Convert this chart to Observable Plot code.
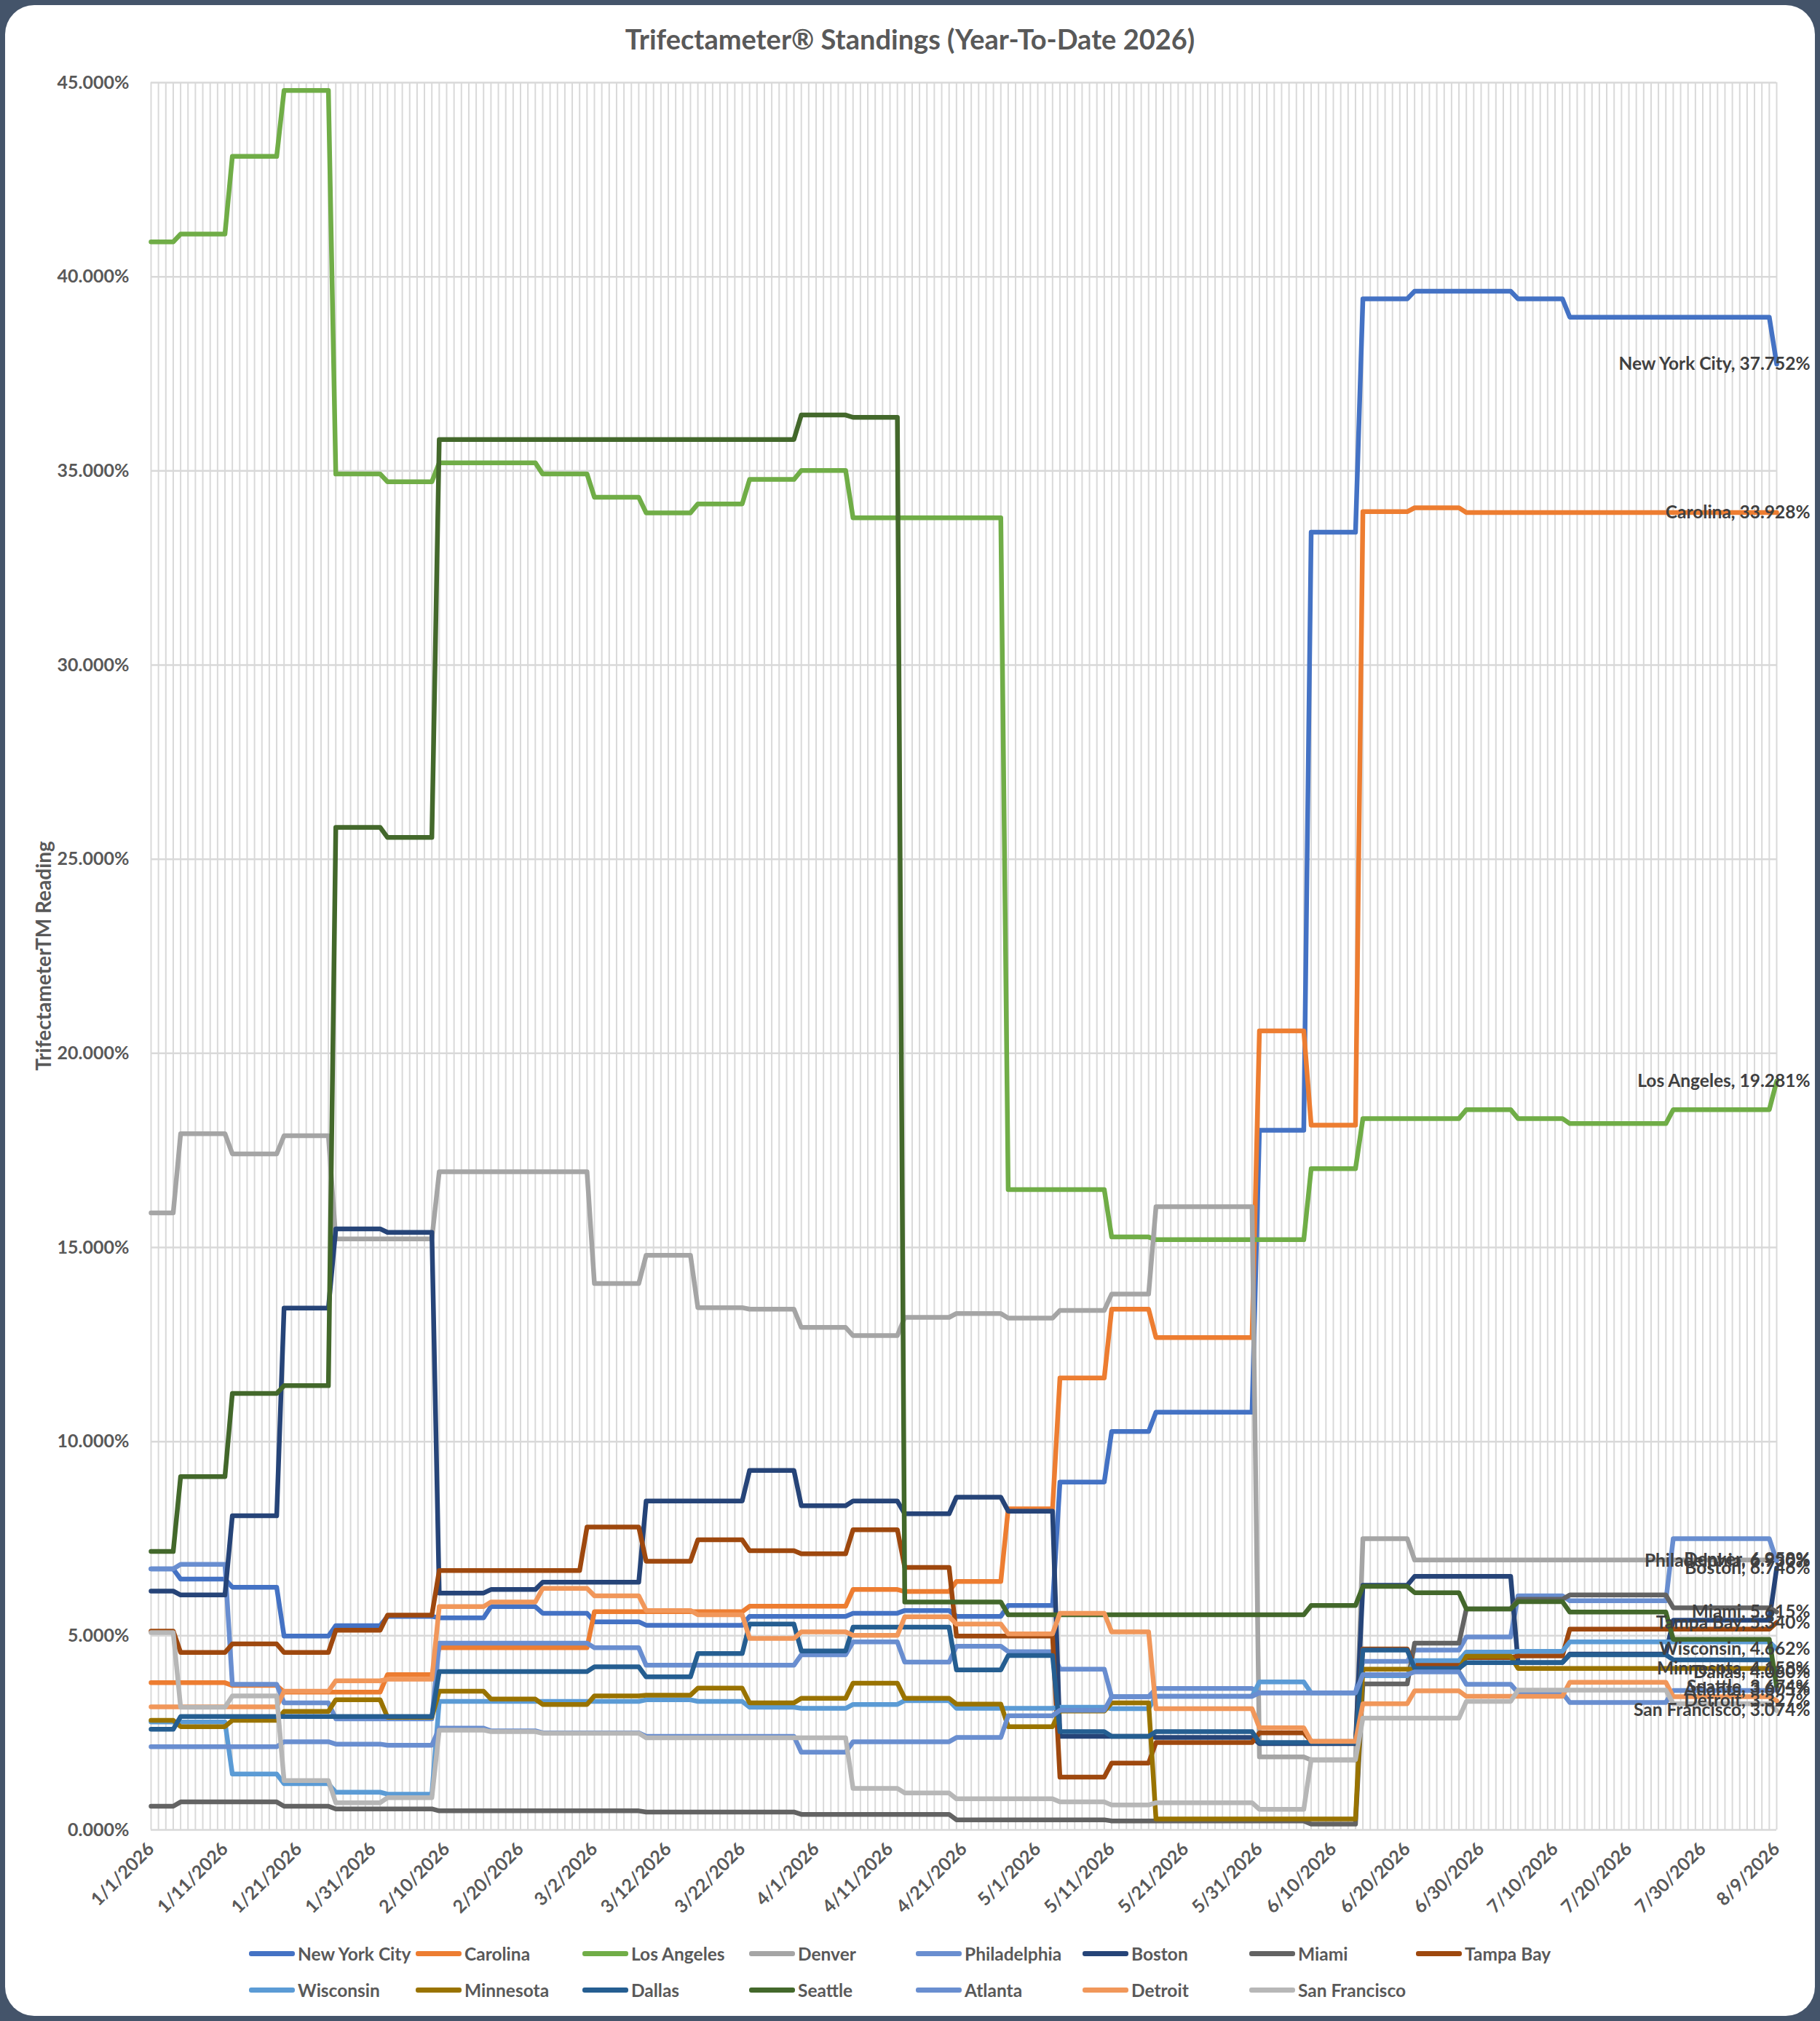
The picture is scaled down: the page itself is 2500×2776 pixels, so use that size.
<!DOCTYPE html>
<html><head><meta charset="utf-8">
<script src="https://cdn.jsdelivr.net/npm/d3@7"></script>
<script src="https://cdn.jsdelivr.net/npm/@observablehq/plot@0.6"></script>
<style>
html,body{margin:0;padding:0;background:#44546A;}
#frame{position:absolute;left:0;top:0;width:2500px;height:2776px;background:#44546A;overflow:hidden;}
#card{position:absolute;left:7px;top:7px;width:2486px;height:2762px;background:#fff;border-radius:40px;}
#chart{position:absolute;left:0;top:0;}
#title{position:absolute;left:0;top:29px;width:2500px;text-align:center;font:bold 38px Lato,sans-serif;color:#595959;line-height:48px;}
#ytitle{position:absolute;left:-238px;top:1293px;width:600px;height:40px;line-height:40px;text-align:center;font:bold 28px Lato,sans-serif;color:#595959;transform:rotate(-90deg);transform-origin:50% 50%;}
.lg{position:absolute;height:30px;display:flex;align-items:center;font:bold 24.5px Lato,sans-serif;color:#595959;white-space:nowrap;}
.sw{width:63px;height:7px;border-radius:3px;margin-right:4px;}
</style></head>
<body><div id="frame"><div id="card"></div><div id="chart"></div><div id="title">Trifectameter® Standings (Year-To-Date 2026)</div><div id="ytitle">TrifectameterTM Reading</div><div id="legend"></div></div>
<script>
// ---- data: runs are [firstDay, lastDay, value %], day 0 = 1/1/2026 ----
const seriesNames = ["New York City","Carolina","Los Angeles","Denver","Philadelphia","Boston","Miami","Tampa Bay","Wisconsin","Minnesota","Dallas","Seattle","Atlanta","Detroit","San Francisco"];
const seriesColors = ["#4472C4","#ED7D31","#70AD47","#A5A5A5","#698ED0","#264478","#636363","#9E480E","#5B9BD5","#997300","#255E91","#43682B","#698ED0","#F1975A","#B7B7B7"];
const endLabels = ["New York City, 37.752%","Carolina, 33.928%","Los Angeles, 19.281%","Denver, 6.958%","Philadelphia, 6.930%","Boston, 6.746%","Miami, 5.615%","Tampa Bay, 5.340%","Wisconsin, 4.662%","Minnesota, 4.158%","Dallas, 4.060%","Seattle, 3.674%","Atlanta, 3.605%","Detroit, 3.327%","San Francisco, 3.074%"];

const newYorkCity = [[0,3,6.72],[4,10,6.46],[11,17,6.25],[18,24,4.99],[25,31,5.26],[32,38,5.5],[39,45,5.46],[46,52,5.75],[53,59,5.58],[60,66,5.36],[67,80,5.27],[81,94,5.5],[95,101,5.58],[102,108,5.65],[109,115,5.5],[116,122,5.78],[123,129,8.96],[130,135,10.26],[136,149,10.76],[150,156,18.02],[157,163,33.42],[164,170,39.43],[171,184,39.63],[185,191,39.43],[192,219,38.96],[220,220,37.752]];
const carolina = [[0,10,3.79],[11,17,3.72],[18,31,3.55],[32,38,4.0],[39,59,4.69],[60,80,5.62],[81,94,5.76],[95,101,6.19],[102,108,6.14],[109,115,6.4],[116,122,8.27],[123,129,11.64],[130,135,13.41],[136,149,12.68],[150,156,20.58],[157,163,18.15],[164,170,33.95],[171,177,34.05],[178,219,33.93],[220,220,33.928]];
const losAngeles = [[0,3,40.9],[4,10,41.1],[11,17,43.1],[18,24,44.8],[25,31,34.92],[32,38,34.72],[39,52,35.21],[53,59,34.92],[60,66,34.32],[67,73,33.92],[74,80,34.15],[81,87,34.78],[88,94,35.01],[95,115,33.79],[116,129,16.49],[130,135,15.27],[136,156,15.2],[157,163,17.03],[164,177,18.32],[178,184,18.55],[185,191,18.32],[192,205,18.19],[206,219,18.55],[220,220,19.281]];
const denver = [[0,3,15.89],[4,10,17.93],[11,17,17.41],[18,24,17.88],[25,38,15.22],[39,59,16.95],[60,66,14.07],[67,73,14.8],[74,80,13.45],[81,87,13.41],[88,94,12.94],[95,101,12.73],[102,108,13.2],[109,115,13.3],[116,122,13.18],[123,129,13.38],[130,135,13.8],[136,149,16.05],[150,156,1.88],[157,163,1.8],[164,170,7.5],[171,219,6.95],[220,220,6.958]];
const philadelphia = [[0,3,6.72],[4,10,6.84],[11,17,3.75],[18,24,3.27],[25,38,2.86],[39,59,4.81],[60,66,4.69],[67,87,4.24],[88,94,4.51],[95,101,4.84],[102,108,4.32],[109,115,4.73],[116,122,4.59],[123,129,4.14],[130,135,3.43],[136,149,3.64],[150,163,3.53],[164,170,4.34],[171,177,4.63],[178,184,4.97],[185,191,6.03],[192,205,5.9],[206,219,7.5],[220,220,6.93]];
const boston = [[0,3,6.15],[4,10,6.05],[11,17,8.09],[18,24,13.44],[25,31,15.48],[32,38,15.39],[39,45,6.1],[46,52,6.19],[53,66,6.38],[67,80,8.47],[81,87,9.26],[88,94,8.35],[95,101,8.47],[102,108,8.14],[109,115,8.57],[116,122,8.21],[123,135,2.41],[136,149,2.38],[150,163,2.22],[164,170,6.3],[171,184,6.53],[185,191,4.31],[192,205,4.53],[206,219,5.4],[220,220,6.746]];
const miami = [[0,3,0.61],[4,17,0.72],[18,24,0.61],[25,38,0.54],[39,66,0.49],[67,87,0.46],[88,108,0.4],[109,129,0.26],[130,156,0.23],[157,163,0.15],[164,170,3.76],[171,177,4.81],[178,184,5.69],[185,191,5.94],[192,205,6.05],[206,219,5.72],[220,220,5.615]];
const tampaBay = [[0,3,5.12],[4,10,4.57],[11,17,4.79],[18,24,4.57],[25,31,5.14],[32,38,5.53],[39,58,6.68],[59,66,7.8],[67,73,6.92],[74,80,7.47],[81,87,7.19],[88,94,7.11],[95,101,7.73],[102,108,6.76],[109,122,4.99],[123,129,1.36],[130,135,1.72],[136,149,2.25],[150,156,2.5],[157,163,2.28],[164,170,4.66],[171,177,4.25],[178,184,4.44],[185,191,4.48],[192,219,5.17],[220,220,5.34]];
const wisconsin = [[0,10,2.78],[11,17,1.44],[18,24,1.19],[25,31,0.97],[32,38,0.92],[39,66,3.31],[67,73,3.35],[74,80,3.31],[81,87,3.16],[88,94,3.13],[95,101,3.23],[102,108,3.33],[109,122,3.13],[123,129,3.16],[130,135,3.12],[136,149,3.44],[150,156,3.81],[157,163,3.53],[164,170,3.97],[171,177,4.36],[178,184,4.58],[185,191,4.6],[192,219,4.84],[220,220,4.662]];
const minnesota = [[0,3,2.82],[4,10,2.66],[11,17,2.82],[18,24,3.05],[25,31,3.35],[32,38,2.9],[39,45,3.57],[46,52,3.37],[53,59,3.23],[60,66,3.45],[67,73,3.47],[74,80,3.65],[81,87,3.27],[88,94,3.39],[95,101,3.78],[102,108,3.39],[109,115,3.24],[116,122,2.66],[123,129,3.06],[130,135,3.27],[136,163,0.28],[164,177,4.14],[178,184,4.47],[185,219,4.16],[220,220,4.158]];
const dallas = [[0,3,2.59],[4,38,2.92],[39,59,4.08],[60,66,4.2],[67,73,3.94],[74,80,4.54],[81,87,5.3],[88,94,4.61],[95,108,5.22],[109,115,4.12],[116,122,4.49],[123,129,2.53],[130,135,2.41],[136,149,2.53],[150,163,2.25],[164,170,4.63],[171,177,4.16],[178,191,4.31],[192,205,4.51],[206,219,4.38],[220,220,4.06]];
const seattle = [[0,3,7.17],[4,10,9.1],[11,17,11.24],[18,24,11.44],[25,31,25.82],[32,38,25.56],[39,87,35.81],[88,94,36.44],[95,101,36.38],[102,115,5.87],[116,156,5.54],[157,163,5.78],[164,170,6.27],[171,177,6.11],[178,184,5.69],[185,191,5.88],[192,205,5.61],[206,219,4.91],[220,220,3.674]];
const atlanta = [[0,17,2.14],[18,24,2.27],[25,31,2.21],[32,38,2.18],[39,45,2.62],[46,52,2.55],[53,66,2.5],[67,87,2.41],[88,94,2.0],[95,108,2.27],[109,115,2.38],[116,122,2.94],[123,129,3.08],[130,135,3.43],[136,149,3.44],[150,163,3.53],[164,170,4.0],[171,177,4.07],[178,184,3.75],[185,191,3.53],[192,205,3.28],[206,219,3.59],[220,220,3.605]];
const detroit = [[0,17,3.17],[18,24,3.57],[25,31,3.84],[32,38,3.88],[39,45,5.75],[46,52,5.87],[53,59,6.22],[60,66,6.03],[67,73,5.65],[74,80,5.54],[81,87,4.93],[88,94,5.1],[95,101,5.01],[102,108,5.49],[109,115,5.3],[116,122,5.05],[123,129,5.58],[130,135,5.1],[136,149,3.12],[150,156,2.63],[157,163,2.28],[164,170,3.25],[171,177,3.58],[178,191,3.44],[192,205,3.8],[206,219,3.43],[220,220,3.327]];
const sanFrancisco = [[0,3,5.08],[4,10,3.16],[11,17,3.45],[18,24,1.27],[25,31,0.7],[32,38,0.83],[39,45,2.57],[46,52,2.53],[53,66,2.49],[67,94,2.37],[95,101,1.07],[102,108,0.95],[109,122,0.8],[123,129,0.72],[130,135,0.64],[136,149,0.7],[150,156,0.53],[157,163,1.81],[164,177,2.88],[178,184,3.31],[185,205,3.6],[206,219,3.25],[220,220,3.074]];

const seriesRuns = [newYorkCity,carolina,losAngeles,denver,philadelphia,boston,miami,tampaBay,wisconsin,minnesota,dallas,seattle,atlanta,detroit,sanFrancisco];

const xTickDays = [0,10,20,30,40,50,60,70,80,90,100,110,120,130,140,150,160,170,180,190,200,210,220];
const xTickLabels = ["1/1/2026","1/11/2026","1/21/2026","1/31/2026","2/10/2026","2/20/2026","3/2/2026","3/12/2026","3/22/2026","4/1/2026","4/11/2026","4/21/2026","5/1/2026","5/11/2026","5/21/2026","5/31/2026","6/10/2026","6/20/2026","6/30/2026","7/10/2026","7/20/2026","7/30/2026","8/9/2026"];
const yTicks = [0,5,10,15,20,25,30,35,40,45];
const lastDay = 220;

// ---- build points from runs ----
function runPoints(runs){
  const out = [];
  for (const [a,b,v] of runs){ out.push({day:a,value:v}); if (b !== a) out.push({day:b,value:v}); }
  return out;
}
const lineMarks = seriesRuns.map((runs,i) => Plot.line(runPoints(runs), {
  x:"day", y:"value", stroke: seriesColors[i], strokeWidth: 6.5,
  strokeLinejoin:"round", strokeLinecap:"round"
}));
const ends = seriesRuns.map((runs,i) => ({day: runs[runs.length-1][1], value: runs[runs.length-1][2], label: endLabels[i]}));

const chart = Plot.plot({
  width: 2500, height: 2650,
  marginTop: 113, marginBottom: 137, marginLeft: 207, marginRight: 60,
  x: {type:"linear", domain:[0,lastDay]},
  y: {domain:[0,45]},
  style: {background:"transparent", fontFamily:"Lato, sans-serif", fontWeight:"bold", color:"#595959", overflow:"visible"},
  marks: [
    Plot.ruleX(d3.range(0,lastDay+1), {stroke:"#d9d9d9", strokeWidth:2}),
    Plot.ruleY(yTicks, {stroke:"#d9d9d9", strokeWidth:2.5}),
    Plot.axisY({ticks:yTicks, tickFormat:d => d.toFixed(3)+"%", tickSize:0, tickPadding:30, fontSize:25, label:null}),
    Plot.axisX({ticks:xTickDays, tickFormat:d => xTickLabels[xTickDays.indexOf(d)], tickRotate:-45, tickSize:0, tickPadding:22, fontSize:25, label:null}),
    ...lineMarks,
    Plot.text(ends, {x:"day", y:"value", text:"label", textAnchor:"end", dx:46, fontSize:24.5, fontWeight:"bold", fill:"#404040"})
  ]
});
document.getElementById("chart").appendChild(chart);

// ---- legend ----
const legend = document.getElementById("legend");
seriesNames.forEach((name,i) => {
  const row = i < 8 ? 0 : 1, col = i < 8 ? i : i-8;
  const d = document.createElement("div");
  d.className = "lg";
  d.style.left = (342 + 229*col) + "px";
  d.style.top = (2668 + 50*row) + "px";
  d.innerHTML = `<div class="sw" style="background:${seriesColors[i]}"></div><span>${name}</span>`;
  legend.appendChild(d);
});
</script></body></html>
